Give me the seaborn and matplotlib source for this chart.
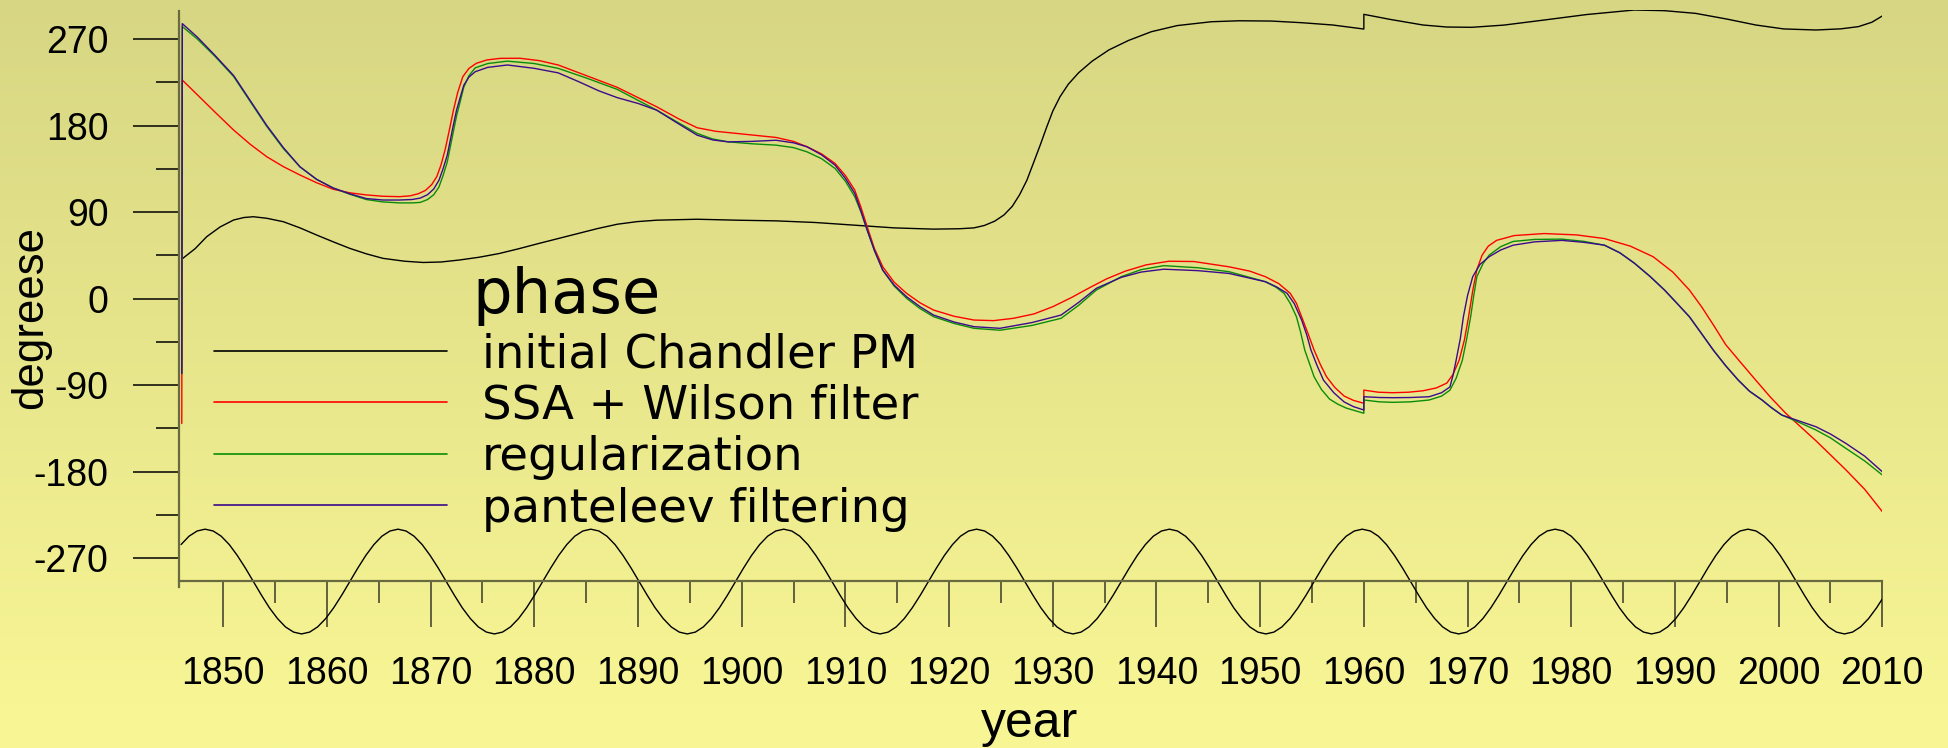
import numpy as np
import pandas as pd
import seaborn as sns
import matplotlib.pyplot as plt
from matplotlib.lines import Line2D
from matplotlib.ticker import FixedLocator
from matplotlib.colors import LinearSegmentedColormap

# (year, degrees) pairs
chandler_pts = [
    (1846.1, 41.8), (1847.3, 52.0), (1848.4, 64.3), (1849.7, 74.5), (1851.0, 81.7),
    (1852.0, 84.3), (1852.9, 85.1), (1854.2, 83.5), (1855.8, 79.9), (1857.4, 73.5),
    (1859.0, 66.1), (1860.6, 59.0), (1862.2, 52.2), (1863.8, 46.5), (1865.4, 41.8),
    (1867.5, 38.8), (1869.3, 37.5), (1871.0, 38.0), (1872.8, 40.1), (1874.7, 43.0),
    (1876.6, 46.8), (1878.5, 51.8), (1880.4, 57.2), (1882.3, 62.4), (1884.2, 67.6),
    (1886.1, 72.8), (1888.0, 77.3), (1889.9, 80.0), (1891.8, 81.5), (1895.7, 82.5),
    (1899.5, 81.5), (1903.3, 80.8), (1907.1, 79.1), (1910.9, 76.3), (1914.7, 73.5),
    (1918.5, 72.2), (1921.0, 72.6), (1922.4, 73.5), (1923.4, 76.0), (1924.4, 80.5),
    (1925.3, 87.0), (1926.1, 96.0), (1926.8, 108.0), (1927.5, 123.0), (1928.1, 140.0),
    (1928.8, 160.0), (1929.4, 178.0), (1930.0, 195.0), (1930.7, 210.0), (1931.5, 223.0),
    (1932.5, 235.0), (1933.8, 247.0), (1935.4, 258.6), (1937.3, 268.5), (1939.5, 277.6),
    (1942.0, 284.0), (1945.3, 288.0), (1948.0, 289.0), (1951.1, 288.7), (1954.0, 287.0),
    (1957.0, 284.6), (1960.0, 280.4), (1960.0, 295.7), (1962.5, 290.5), (1965.7, 284.6),
    (1968.0, 282.5), (1970.4, 282.2), (1973.5, 284.5), (1977.4, 289.8), (1981.5, 295.5),
    (1986.1, 300.2), (1989.0, 299.5), (1992.0, 296.7), (1995.0, 290.8), (1997.8, 284.6),
    (2000.5, 280.5), (2003.6, 279.4), (2006.0, 280.6), (2007.7, 282.9), (2009.0, 287.5),
    (2010.0, 294.0),
]

ssa_pts = [
    (1846.0, -130.0), (1846.05, 227.3), (1847.5, 212.0), (1849.2, 194.0), (1851.0, 175.3),
    (1852.6, 160.5), (1854.2, 147.5), (1855.8, 137.2), (1857.4, 128.5), (1859.0, 120.5),
    (1860.6, 113.7), (1862.2, 110.0), (1863.8, 107.8), (1865.4, 106.4), (1867.0, 106.0),
    (1868.0, 106.8), (1868.8, 109.0), (1869.5, 112.5), (1870.1, 118.5), (1870.6, 127.0),
    (1871.0, 139.0), (1871.4, 155.0), (1871.8, 175.0), (1872.2, 196.0), (1872.6, 214.0),
    (1873.1, 230.8), (1873.7, 239.5), (1874.4, 244.7), (1875.4, 248.2), (1876.7, 249.9),
    (1878.6, 250.0), (1880.5, 247.5), (1882.3, 243.0), (1885.0, 232.0), (1888.0, 219.7),
    (1891.8, 199.5), (1894.0, 186.5), (1895.7, 177.7), (1897.5, 174.0), (1899.5, 171.8),
    (1903.3, 167.6), (1905.0, 163.5), (1906.3, 157.9), (1907.7, 150.5), (1909.0, 140.6),
    (1910.0, 128.0), (1910.9, 112.9), (1911.5, 95.0), (1912.1, 74.7), (1912.8, 52.0),
    (1913.6, 33.1), (1914.7, 17.0), (1915.9, 5.4), (1917.2, -4.5), (1918.5, -12.0),
    (1920.5, -18.5), (1922.4, -22.4), (1924.3, -23.0), (1926.2, -20.6), (1928.2, -16.0),
    (1930.0, -8.5), (1931.8, 1.0), (1933.5, 11.0), (1935.2, 20.5), (1937.0, 28.5),
    (1939.0, 35.0), (1941.2, 38.8), (1943.6, 38.5), (1947.0, 33.0), (1949.0, 28.5),
    (1950.5, 22.7), (1951.8, 15.5), (1952.9, 5.4), (1953.5, -5.0), (1954.0, -19.0),
    (1954.6, -36.0), (1955.2, -53.6), (1955.8, -68.5), (1956.4, -81.4), (1957.2, -92.5),
    (1958.1, -101.5), (1959.0, -106.0), (1960.0, -109.0), (1960.0, -95.3), (1961.4, -97.5),
    (1962.8, -98.0), (1964.3, -97.5), (1965.7, -96.0), (1967.0, -93.0), (1968.0, -88.0),
    (1968.6, -79.0), (1969.2, -64.0), (1969.7, -43.0), (1970.1, -19.0), (1970.5, 8.0),
    (1970.9, 30.0), (1971.4, 45.0), (1972.0, 54.5), (1972.8, 60.5), (1974.5, 65.5),
    (1977.4, 67.6), (1980.5, 66.2), (1983.2, 62.4), (1985.7, 54.5), (1987.9, 43.5),
    (1989.8, 27.5), (1991.4, 8.8), (1992.6, -9.0), (1993.8, -29.0), (1994.9, -48.0),
    (1996.3, -66.0), (1997.8, -85.0), (1999.2, -102.5), (2000.7, -119.5), (2003.6, -148.0),
    (2006.5, -178.4), (2008.3, -198.5), (2010.0, -221.7),
]

reg_pts = [
    (1846.0, -78.0), (1846.05, 283.0), (1847.5, 270.0), (1849.2, 252.0), (1851.0, 231.0),
    (1852.6, 205.0), (1854.2, 179.0), (1855.8, 156.0), (1857.4, 137.0), (1859.0, 124.0),
    (1860.6, 115.0), (1862.2, 108.5), (1863.8, 103.0), (1865.4, 100.5), (1867.0, 99.5),
    (1868.2, 99.5), (1869.0, 100.0), (1869.7, 103.0), (1870.3, 108.0), (1870.8, 116.0),
    (1871.2, 128.0), (1871.6, 142.0), (1871.9, 158.0), (1872.2, 174.0), (1872.5, 190.0),
    (1872.9, 207.0), (1873.2, 220.0), (1873.7, 232.0), (1874.3, 240.0), (1875.5, 244.5),
    (1877.4, 247.0), (1880.0, 244.5), (1882.3, 239.5), (1885.0, 229.5), (1888.0, 217.6),
    (1891.8, 196.0), (1893.8, 183.5), (1895.7, 171.8), (1897.2, 166.0), (1898.7, 163.0),
    (1901.0, 161.0), (1903.3, 159.6), (1905.0, 157.0), (1906.3, 152.6), (1907.7, 145.5),
    (1909.0, 135.4), (1910.0, 122.0), (1910.9, 106.0), (1911.5, 90.0), (1912.1, 71.3),
    (1912.8, 50.0), (1913.6, 29.6), (1914.7, 13.0), (1915.9, 0.2), (1917.2, -10.5),
    (1918.5, -18.9), (1920.5, -26.0), (1922.4, -31.0), (1924.9, -33.0), (1928.0, -28.0),
    (1930.8, -20.6), (1932.5, -7.0), (1934.2, 8.8), (1936.6, 22.7), (1938.5, 30.0),
    (1940.7, 34.2), (1944.0, 32.0), (1947.0, 27.9), (1950.5, 17.5), (1951.5, 12.0),
    (1952.3, 5.4), (1952.9, -5.0), (1953.5, -19.0), (1953.9, -35.0), (1954.3, -53.6),
    (1954.8, -69.0), (1955.2, -81.4), (1955.9, -94.5), (1956.7, -104.7), (1957.5, -110.0),
    (1958.3, -114.0), (1960.0, -119.4), (1960.0, -105.6), (1961.5, -107.5), (1962.8, -108.0),
    (1964.5, -107.5), (1966.3, -105.6), (1967.5, -101.5), (1968.3, -95.4), (1968.9, -83.0),
    (1969.5, -64.2), (1969.9, -43.0), (1970.3, -19.0), (1970.6, 3.0), (1970.9, 22.7),
    (1971.5, 36.5), (1972.1, 45.3), (1973.2, 54.0), (1974.4, 59.4), (1976.5, 61.5),
    (1979.1, 61.8), (1981.2, 59.5), (1983.2, 55.5), (1984.7, 47.5), (1986.1, 36.7),
    (1987.6, 23.0), (1989.0, 8.8), (1990.2, -5.0), (1991.4, -19.0), (1992.5, -35.5),
    (1993.7, -53.6), (1994.9, -70.0), (1996.1, -84.8), (1997.2, -96.5), (1998.4, -105.6),
    (1999.3, -113.5), (2000.3, -121.2), (2002.0, -129.0), (2003.6, -136.8), (2005.0, -145.0),
    (2006.5, -156.0), (2008.3, -169.0), (2010.0, -183.6),
]

pant_pts = [
    (1846.0, -78.0), (1846.05, 286.0), (1847.5, 272.0), (1849.2, 253.0), (1851.0, 232.0),
    (1852.6, 206.0), (1854.2, 180.0), (1855.8, 157.0), (1857.4, 137.0), (1859.0, 124.0),
    (1860.6, 115.0), (1862.2, 109.0), (1863.8, 104.0), (1865.4, 102.5), (1867.0, 102.5),
    (1868.2, 103.0), (1869.0, 104.5), (1869.7, 108.0), (1870.3, 114.0), (1870.8, 123.0),
    (1871.2, 135.0), (1871.6, 149.0), (1871.9, 165.0), (1872.2, 181.0), (1872.5, 196.0),
    (1872.9, 211.0), (1873.2, 222.0), (1873.7, 230.5), (1874.3, 236.0), (1875.5, 240.5),
    (1877.4, 243.0), (1880.0, 239.5), (1882.3, 234.8), (1884.2, 226.0), (1886.2, 216.2),
    (1888.0, 209.0), (1890.0, 203.0), (1891.8, 196.0), (1893.8, 182.5), (1895.7, 170.0),
    (1897.2, 165.0), (1898.7, 163.0), (1901.0, 163.5), (1903.3, 164.7), (1905.0, 162.0),
    (1906.3, 157.9), (1907.7, 149.5), (1909.0, 138.8), (1910.0, 125.0), (1910.9, 109.4),
    (1911.5, 91.0), (1912.1, 71.3), (1912.8, 50.0), (1913.6, 29.6), (1914.7, 14.0),
    (1915.9, 1.9), (1917.2, -8.5), (1918.5, -17.2), (1920.5, -24.5), (1922.4, -29.3),
    (1924.9, -31.0), (1928.0, -25.0), (1930.8, -17.2), (1932.5, -4.0), (1934.2, 10.6),
    (1936.6, 22.0), (1938.5, 27.5), (1940.7, 30.5), (1944.0, 29.0), (1947.0, 26.1),
    (1950.5, 17.5), (1951.6, 12.0), (1952.6, 5.4), (1953.3, -5.5), (1954.0, -22.4),
    (1954.5, -38.0), (1954.9, -53.6), (1955.5, -70.0), (1956.1, -84.8), (1957.1, -98.0),
    (1958.1, -107.6), (1959.0, -112.5), (1960.0, -116.0), (1960.0, -102.2), (1961.5, -103.0),
    (1962.8, -103.2), (1964.5, -103.0), (1966.3, -102.2), (1967.5, -98.0), (1968.3, -92.0),
    (1968.6, -80.0), (1968.9, -64.2), (1969.3, -42.0), (1969.6, -19.0), (1970.0, 3.0),
    (1970.5, 22.7), (1971.2, 35.5), (1972.1, 43.6), (1973.2, 50.5), (1974.4, 55.5),
    (1976.5, 59.0), (1979.1, 60.5), (1981.2, 58.5), (1983.2, 55.5), (1984.7, 47.5),
    (1986.1, 36.7), (1987.6, 23.0), (1989.0, 8.8), (1990.2, -5.0), (1991.4, -19.0),
    (1992.5, -35.5), (1993.7, -53.6), (1994.9, -70.0), (1996.1, -84.8), (1997.2, -96.5),
    (1998.4, -105.6), (1999.3, -113.5), (2000.3, -121.2), (2002.0, -127.5), (2003.6, -133.4),
    (2005.0, -141.0), (2006.5, -150.8), (2008.3, -164.0), (2010.0, -180.2),
]

# the unlabelled oscillation drawn across the time axis
wave_years = [
    1845.93, 1846.70, 1847.48,
    1848.25, 1849.03, 1849.80, 1850.58, 1851.35, 1852.13, 1852.90, 1853.68, 1854.45, 1855.23, 1856.00, 1856.78,
    1857.55, 1858.33, 1859.10, 1859.88, 1860.65, 1861.43, 1862.20, 1862.98, 1863.75, 1864.53, 1865.30, 1866.08,
    1866.85, 1867.63, 1868.40, 1869.18, 1869.95, 1870.73, 1871.50, 1872.28, 1873.05, 1873.83, 1874.60, 1875.38,
    1876.15, 1876.93, 1877.70, 1878.48, 1879.25, 1880.03, 1880.80, 1881.58, 1882.35, 1883.13, 1883.90, 1884.68,
    1885.45, 1886.23, 1887.00, 1887.78, 1888.55, 1889.33, 1890.10, 1890.88, 1891.65, 1892.43, 1893.20, 1893.98,
    1894.75, 1895.53, 1896.30, 1897.08, 1897.85, 1898.63, 1899.40, 1900.18, 1900.95, 1901.73, 1902.50, 1903.28,
    1904.05, 1904.83, 1905.60, 1906.38, 1907.15, 1907.93, 1908.70, 1909.48, 1910.25, 1911.03, 1911.80, 1912.58,
    1913.35, 1914.13, 1914.90, 1915.68, 1916.45, 1917.23, 1918.00, 1918.78, 1919.55, 1920.33, 1921.10, 1921.88,
    1922.65, 1923.43, 1924.20, 1924.98, 1925.75, 1926.53, 1927.30, 1928.08, 1928.85, 1929.63, 1930.40, 1931.18,
    1931.95, 1932.73, 1933.50, 1934.28, 1935.05, 1935.83, 1936.60, 1937.38, 1938.15, 1938.93, 1939.70, 1940.48,
    1941.25, 1942.03, 1942.80, 1943.58, 1944.35, 1945.13, 1945.90, 1946.68, 1947.45, 1948.23, 1949.00, 1949.78,
    1950.55, 1951.33, 1952.10, 1952.88, 1953.65, 1954.43, 1955.20, 1955.98, 1956.75, 1957.53, 1958.30, 1959.08,
    1959.85, 1960.63, 1961.40, 1962.18, 1962.95, 1963.73, 1964.50, 1965.28, 1966.05, 1966.83, 1967.60, 1968.38,
    1969.15, 1969.93, 1970.70, 1971.48, 1972.25, 1973.03, 1973.80, 1974.58, 1975.35, 1976.13, 1976.90, 1977.68,
    1978.45, 1979.23, 1980.00, 1980.78, 1981.55, 1982.33, 1983.10, 1983.88, 1984.65, 1985.43, 1986.20, 1986.98,
    1987.75, 1988.53, 1989.30, 1990.08, 1990.85, 1991.63, 1992.40, 1993.18, 1993.95, 1994.73, 1995.50, 1996.28,
    1997.05, 1997.83, 1998.60, 1999.38, 2000.15, 2000.93, 2001.70, 2002.48, 2003.25, 2004.03, 2004.80, 2005.58,
    2006.35, 2007.13, 2007.90, 2008.68, 2009.45, 2010.00,
]
wave_vals = [
    -256.0, -247.3, -241.9,
    -240.0, -241.9, -247.3, -256.0, -267.3, -280.4, -294.5, -308.6, -321.8, -333.0, -341.7, -347.1,
    -349.0, -347.1, -341.7, -333.0, -321.8, -308.6, -294.5, -280.4, -267.3, -256.0, -247.3, -241.9,
    -240.0, -241.9, -247.3, -256.0, -267.3, -280.4, -294.5, -308.6, -321.8, -333.0, -341.7, -347.1,
    -349.0, -347.1, -341.7, -333.0, -321.8, -308.6, -294.5, -280.4, -267.3, -256.0, -247.3, -241.9,
    -240.0, -241.9, -247.3, -256.0, -267.3, -280.4, -294.5, -308.6, -321.8, -333.0, -341.7, -347.1,
    -349.0, -347.1, -341.7, -333.0, -321.8, -308.6, -294.5, -280.4, -267.3, -256.0, -247.3, -241.9,
    -240.0, -241.9, -247.3, -256.0, -267.3, -280.4, -294.5, -308.6, -321.8, -333.0, -341.7, -347.1,
    -349.0, -347.1, -341.7, -333.0, -321.8, -308.6, -294.5, -280.4, -267.3, -256.0, -247.3, -241.9,
    -240.0, -241.9, -247.3, -256.0, -267.3, -280.4, -294.5, -308.6, -321.8, -333.0, -341.7, -347.1,
    -349.0, -347.1, -341.7, -333.0, -321.8, -308.6, -294.5, -280.4, -267.3, -256.0, -247.3, -241.9,
    -240.0, -241.9, -247.3, -256.0, -267.3, -280.4, -294.5, -308.6, -321.8, -333.0, -341.7, -347.1,
    -349.0, -347.1, -341.7, -333.0, -321.8, -308.6, -294.5, -280.4, -267.3, -256.0, -247.3, -241.9,
    -240.0, -241.9, -247.3, -256.0, -267.3, -280.4, -294.5, -308.6, -321.8, -333.0, -341.7, -347.1,
    -349.0, -347.1, -341.7, -333.0, -321.8, -308.6, -294.5, -280.4, -267.3, -256.0, -247.3, -241.9,
    -240.0, -241.9, -247.3, -256.0, -267.3, -280.4, -294.5, -308.6, -321.8, -333.0, -341.7, -347.1,
    -349.0, -347.1, -341.7, -333.0, -321.8, -308.6, -294.5, -280.4, -267.3, -256.0, -247.3, -241.9,
    -240.0, -241.9, -247.3, -256.0, -267.3, -280.4, -294.5, -308.6, -321.8, -333.0, -341.7, -347.1,
    -349.0, -347.1, -341.7, -333.0, -321.8, -312.6,
]

series_names = ["initial Chandler PM", "SSA + Wilson filter", "regularization", "panteleev filtering"]
series_colors = ["#000000", "#ff0000", "#0a8c0a", "#3c0a8c"]
x_ticks = [1850, 1860, 1870, 1880, 1890, 1900, 1910, 1920, 1930, 1940,
           1950, 1960, 1970, 1980, 1990, 2000, 2010]
x_minor = [1855, 1865, 1875, 1885, 1895, 1905, 1915, 1925, 1935, 1945,
           1955, 1965, 1975, 1985, 1995, 2005]
y_ticks = [-270, -180, -90, 0, 90, 180, 270]
y_minor = [-225, -135, -45, 45, 135, 225]


def main():
    sns.set_theme(style="white")
    plt.rcParams['font.family'] = ['Liberation Sans', 'DejaVu Sans']
    plt.rcParams['axes.unicode_minus'] = False
    plt.rcParams['text.color'] = 'black'

    fig = plt.figure(figsize=(19.48, 7.48), dpi=100)

    # yellow gradient background
    bg = fig.add_axes([0, 0, 1, 1], zorder=-10)
    grad = np.linspace(0, 1, 256).reshape(-1, 1)
    cmap = LinearSegmentedColormap.from_list("bg", ["#d7d683", "#f9f795"])
    bg.imshow(grad, aspect="auto", cmap=cmap, extent=[0, 1, 0, 1], origin="upper")
    bg.axis("off")

    ax = fig.add_axes([0.09204, 0.13837, 0.87423, 0.84799])
    ax.patch.set_alpha(0)

    frames = []
    for name, pts in zip(series_names, [chandler_pts, ssa_pts, reg_pts, pant_pts]):
        part = pd.DataFrame(pts, columns=["year", "phase"])
        part["series"] = name
        frames.append(part)
    df = pd.concat(frames, ignore_index=True)

    sns.lineplot(data=df, x="year", y="phase", hue="series", hue_order=series_names,
                 palette=series_colors, estimator=None, sort=False, linewidth=1.0,
                 legend=False, ax=ax)
    sns.lineplot(x=wave_years, y=wave_vals, color="black", linewidth=1.0,
                 estimator=None, sort=False, ax=ax)

    ax.set_xlim(1845.76, 2010)
    ax.set_ylim(-360, 300)

    ax.set_xticks(x_ticks)
    ax.xaxis.set_minor_locator(FixedLocator(x_minor))
    ax.set_yticks(y_ticks)
    ax.yaxis.set_minor_locator(FixedLocator(y_minor))

    ax.tick_params(axis="both", which="both", bottom=True, left=True, direction="out")
    ax.tick_params(axis="y", which="major", length=33, width=1.1, color="black",
                   pad=18, labelsize=27, labelcolor="black")
    ax.tick_params(axis="y", which="minor", length=16.5, width=1.1, color="black")
    ax.tick_params(axis="x", which="major", length=33, width=1.1, color="#3a3a28",
                   pad=21, labelsize=27, labelcolor="black")
    ax.tick_params(axis="x", which="minor", length=16, width=1.1, color="#3a3a28")

    for side in ["top", "right"]:
        ax.spines[side].set_visible(False)
    ax.spines["left"].set_color("#6a6a40")
    ax.spines["left"].set_linewidth(1.6)
    ax.spines["left"].set_bounds(-300, 299)
    ax.spines["bottom"].set_color("#6a6a40")
    ax.spines["bottom"].set_linewidth(1.6)
    ax.spines["bottom"].set_position(("data", -293.6))
    ax.spines["bottom"].set_bounds(1845.76, 2010)

    ax.set_xlabel("year", fontsize=36, color="black")
    ax.xaxis.label.set_va("center")
    ax.xaxis.set_label_coords(0.4995, -0.125)
    ax.set_ylabel("degreese", fontsize=31.5, color="black")
    ax.yaxis.label.set_va("center")
    ax.yaxis.set_label_coords(-0.0872, 0.5163)

    handles = [Line2D([], [], color=c, linewidth=1.2) for c in series_colors]
    leg = ax.legend(handles, series_names, title="phase", loc="upper left",
                    bbox_to_anchor=(0.1099, 0.6449), bbox_transform=fig.transFigure,
                    frameon=False, borderpad=0, borderaxespad=0,
                    handlelength=5.01, handletextpad=0.75, labelspacing=0.14,
                    prop={"family": "DejaVu Sans", "size": 33.5}, labelcolor="black",
                    title_fontproperties={"family": "DejaVu Sans", "size": 45})
    leg.get_title().set_color("black")

    fig.savefig("out.png", dpi=100)
    plt.close(fig)


if __name__ == "__main__":
    main()
